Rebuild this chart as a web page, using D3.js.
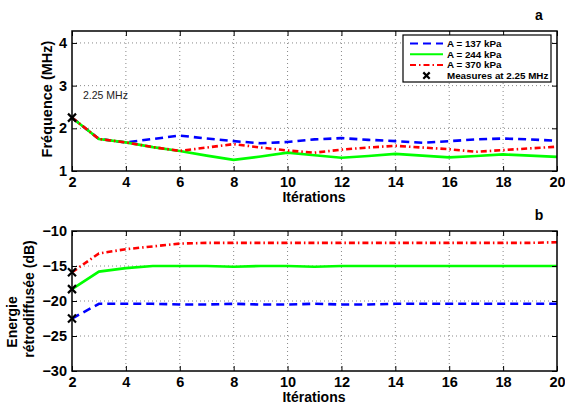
<!DOCTYPE html>
<html>
<head>
<meta charset="utf-8">
<script src="https://cdn.jsdelivr.net/npm/d3@7"></script>
<style>
body{margin:0;background:#fff;}
svg{font-family:"Liberation Sans",Arial,sans-serif;font-weight:bold;}
</style>
</head>
<body>
<svg id="fig" width="565" height="403"></svg>
<script>
// donnees
let iterations=[2,3,4,5,6,7,8,9,10,11,12,13,14,15,16,17,18,19,20];
let freq137=[2.25,1.75,1.67,1.75,1.83,1.76,1.70,1.65,1.68,1.74,1.77,1.73,1.70,1.66,1.70,1.74,1.76,1.74,1.71];
let freq244=[2.25,1.75,1.67,1.56,1.47,1.36,1.26,1.34,1.43,1.37,1.31,1.35,1.40,1.36,1.32,1.35,1.39,1.36,1.33];
let freq370=[2.25,1.75,1.67,1.56,1.47,1.55,1.63,1.55,1.48,1.43,1.50,1.55,1.59,1.55,1.51,1.45,1.49,1.53,1.57];
let ener137=[-22.5,-20.4,-20.4,-20.4,-20.5,-20.5,-20.4,-20.5,-20.5,-20.4,-20.5,-20.5,-20.4,-20.4,-20.4,-20.4,-20.4,-20.4,-20.4];
let ener244=[-18.3,-15.8,-15.3,-15.0,-15.0,-15.0,-15.1,-15.0,-15.0,-15.1,-15.0,-15.0,-15.0,-15.0,-15.0,-15.0,-15.0,-15.0,-15.0];
let ener370=[-15.9,-13.2,-12.6,-12.2,-11.8,-11.7,-11.7,-11.7,-11.7,-11.7,-11.7,-11.7,-11.7,-11.7,-11.7,-11.7,-11.7,-11.7,-11.6];
let xTicks=[2,4,6,8,10,12,14,16,18,20];
let yTicksA=[1,2,3,4];
let yTicksB=[-30,-25,-20,-15,-10];
let legendLabels=["A = 137 kPa","A = 244 kPa","A = 370 kPa","Measures at 2.25 MHz"];

let styles=[
    {color:"#0000ff", dash:"8,5"},
    {color:"#00ff00", dash:null},
    {color:"#ff0000", dash:"6,3,1.5,3"}
];

let svg=d3.select("#fig");
let x=d3.scaleLinear().domain([2,20]).range([72,557]);

function cross(g,cx,cy,r){
    g.append("path")
        .attr("d","M"+(cx-r)+","+(cy-r)+"L"+(cx+r)+","+(cy+r)+"M"+(cx-r)+","+(cy+r)+"L"+(cx+r)+","+(cy-r))
        .attr("stroke","#000").attr("stroke-width",2.2);
}

function panel(top,bottom,ydom,yticks,series,crossPts,letter){
    let y=d3.scaleLinear().domain(ydom).range([bottom,top]);
    let g=svg.append("g");

    //grille pointillee
    g.selectAll(".gx").data(xTicks.slice(1,-1)).enter().append("line")
        .attr("x1",d=>x(d)).attr("x2",d=>x(d)).attr("y1",top).attr("y2",bottom)
        .attr("stroke","#888").attr("stroke-width",1).attr("stroke-dasharray","1,3");
    g.selectAll(".gy").data(yticks.filter(d=>d!=ydom[0]&&d!=ydom[1])).enter().append("line")
        .attr("x1",72).attr("x2",557).attr("y1",d=>y(d)).attr("y2",d=>y(d))
        .attr("stroke","#888").attr("stroke-width",1).attr("stroke-dasharray","1,3");

    //courbes
    series.forEach(function(s,i){
        let line=d3.line().x((d,j)=>x(iterations[j])).y(d=>y(d));
        g.append("path").datum(s)
            .attr("d",line).attr("fill","none")
            .attr("stroke",styles[i].color).attr("stroke-width",2.6)
            .attr("stroke-dasharray",styles[i].dash);
    });

    //croix
    crossPts.forEach(v=>cross(g,x(2),y(v),4));

    //cadre + graduations
    g.append("rect").attr("x",72).attr("y",top).attr("width",485).attr("height",bottom-top)
        .attr("fill","none").attr("stroke","#000").attr("stroke-width",1.5);
    let ax=d3.axisBottom(x).tickValues(xTicks).tickSize(-5).tickPadding(6);
    g.append("g").attr("transform","translate(0,"+bottom+")").call(ax);
    g.append("g").attr("transform","translate(0,"+top+")").call(d3.axisTop(x).tickValues(xTicks).tickSize(-5).tickFormat(""));
    let ay=d3.axisLeft(y).tickValues(yticks).tickSize(-5).tickPadding(5).tickFormat(d=>d<0?"\u2212"+(-d):d);
    g.append("g").attr("transform","translate(72,0)").call(ay);
    g.append("g").attr("transform","translate(557,0)").call(d3.axisRight(y).tickValues(yticks).tickSize(-5).tickFormat(""));
    g.selectAll(".domain").remove();
    g.selectAll(".tick line").attr("stroke","#000").attr("stroke-width",1);
    g.selectAll("g").attr("font-family",null).attr("font-size",null);
    g.selectAll(".tick text").style("font-size","14.5px").style("font-weight","bold")
        .style("font-family","'Liberation Sans', Arial, sans-serif").attr("fill","#000");

    g.append("text").attr("x",314).attr("y",bottom+31).attr("text-anchor","middle")
        .style("font-size","14px").text("Itérations");
    g.append("text").attr("x",539).attr("y",top-11).attr("text-anchor","middle")
        .style("font-size","14px").text(letter);
    return {g:g,y:y};
}

let pa=panel(31,171,[1,4.28],yTicksA,[freq137,freq244,freq370],[freq137[0]],"a");
let pb=panel(231,371,[-30,-10],yTicksB,[ener137,ener244,ener370],[ener137[0],ener244[0],ener370[0]],"b");

pa.g.append("text").attr("transform","translate(52,99) rotate(-90)").attr("text-anchor","middle")
    .style("font-size","14.5px").text("Fréquence (MHz)");
pb.g.append("text").attr("transform","translate(17,322) rotate(-90)").attr("text-anchor","middle")
    .style("font-size","14px").text("Energie");
pb.g.append("text").attr("transform","translate(34,299) rotate(-90)").attr("text-anchor","middle")
    .style("font-size","14px").text("rétrodiffusée (dB)");

pa.g.append("text").attr("x",83).attr("y",99).style("font-size","10.5px").style("font-weight","normal")
    .attr("fill","#222").text("2.25 MHz");

//legende
let lg=pa.g.append("g");
lg.append("rect").attr("x",403).attr("y",35).attr("width",148).attr("height",47)
    .attr("fill","#fff").attr("stroke","#000").attr("stroke-width",1.2);
legendLabels.forEach(function(t,i){
    let ly=43.5+i*10.7;
    if(i<3){
        lg.append("line").attr("x1",410).attr("x2",443).attr("y1",ly).attr("y2",ly)
            .attr("stroke",styles[i].color).attr("stroke-width",2)
            .attr("stroke-dasharray",styles[i].dash);
    }else{
        cross(lg,426.5,ly,3.2);
    }
    lg.append("text").attr("x",447).attr("y",ly+3.5).style("font-size","9.8px").text(t);
});
</script>
</body>
</html>
